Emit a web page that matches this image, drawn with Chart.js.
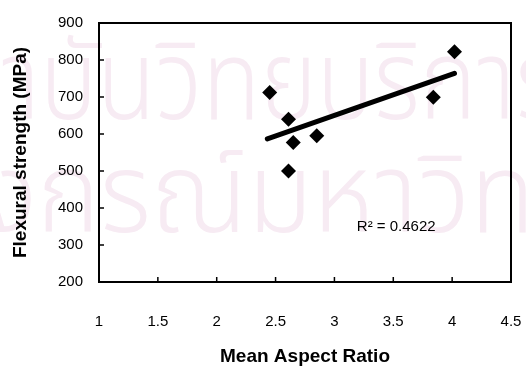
<!DOCTYPE html>
<html><head><meta charset="utf-8">
<script src="https://cdn.jsdelivr.net/npm/chart.js@4.4.1/dist/chart.umd.min.js"></script>
<style>html,body{margin:0;padding:0;background:#fff}#wrap{width:526px;height:368px;position:relative}</style>
</head><body><div id="wrap"><canvas id="c" width="526" height="368"></canvas></div>
<script>
// ---- data ----
const aspectRatio      = [2.45, 2.61, 2.65, 2.85, 2.61, 3.84, 4.02];
const flexuralStrength = [712, 640, 577, 595, 500, 699, 822];
const trendX = [2.43, 4.02];
const trendY = [587, 764];
const xTicks = [1, 1.5, 2, 2.5, 3, 3.5, 4, 4.5];
const xTickLabels = ['1', '1.5', '2', '2.5', '3', '3.5', '4', '4.5'];
const yTicks = [200, 300, 400, 500, 600, 700, 800, 900];
const yTickLabels = ['200', '300', '400', '500', '600', '700', '800', '900'];
const xTitle = 'Mean Aspect Ratio';
const yTitle = 'Flexural strength (MPa)';
const rSquaredLabel = 'R² = 0.4622';
const watermarkLines = ['สถาบันวิทยบริการ', 'จุฬาลงกรณ์มหาวิทยาลัย'];

const points = aspectRatio.map((x, i) => ({x, y: flexuralStrength[i]}));
const trend = trendX.map((x, i) => ({x, y: trendY[i]}));

const FONT = '"Liberation Sans", Arial, sans-serif';
const THAI = '"Noto Sans Thai", "Noto Sans", sans-serif';

// draw a watermark line so that `span` covers spanPx pixels starting at anchorX,
// with consonant body from (bodyBottom - bodyH) to bodyBottom
function drawStretched(ctx, text, prefix, span, anchorX, spanPx, bodyBottom, bodyH) {
  ctx.font = '300 100px ' + THAI;
  const m = ctx.measureText('น');
  const h = m.actualBoundingBoxAscent + m.actualBoundingBoxDescent;
  const size = 100 * bodyH / h;
  const desc = m.actualBoundingBoxDescent * size / 100;
  ctx.font = '300 ' + size.toFixed(1) + 'px ' + THAI;
  const sx = spanPx / ctx.measureText(span).width;
  const pre = ctx.measureText(prefix).width * sx;
  ctx.save();
  ctx.translate(anchorX - pre, bodyBottom - desc);
  ctx.scale(sx, 1);
  ctx.fillText(text, 0, 0);
  ctx.restore();
}

const decor = {
  id: 'decor',
  beforeDraw(chart) {
    const ctx = chart.ctx;
    ctx.save();
    ctx.fillStyle = '#f7ebf3';
    ctx.textBaseline = 'alphabetic';
    ctx.textAlign = 'left';
    drawStretched(ctx, watermarkLines[0], 'สถา', 'บันวิทยบริ', 40, 380, 120, 62);
    drawStretched(ctx, watermarkLines[1], 'จุฬาลง', 'กรณ์มหาวิ', 37, 433, 233, 62);
    ctx.restore();
  },
  afterDraw(chart) {
    const ctx = chart.ctx;
    const a = chart.chartArea;
    const xs = chart.scales.x, ys = chart.scales.y;
    ctx.save();
    ctx.strokeStyle = '#000';
    ctx.lineWidth = 2;
    ctx.strokeRect(a.left, a.top, a.right - a.left, a.bottom - a.top);
    ctx.lineWidth = 1.5;
    ctx.beginPath();
    xs.ticks.forEach(t => {
      const px = xs.getPixelForValue(t.value);
      if (px > a.left + 2 && px < a.right - 2) { ctx.moveTo(px, a.bottom); ctx.lineTo(px, a.bottom - 5); }
    });
    ys.ticks.forEach(t => {
      const py = ys.getPixelForValue(t.value);
      if (py > a.top + 2 && py < a.bottom - 2) { ctx.moveTo(a.left, py); ctx.lineTo(a.left + 5, py); }
    });
    ctx.stroke();
    ctx.fillStyle = '#000';
    ctx.font = '15px ' + FONT;
    ctx.textAlign = 'left';
    ctx.textBaseline = 'middle';
    ctx.fillText(rSquaredLabel, xs.getPixelForValue(3.19), ys.getPixelForValue(350));
    ctx.restore();
  }
};

new Chart(document.getElementById('c'), {
  type: 'scatter',
  data: {
    datasets: [
      {
        type: 'line',
        data: trend,
        borderColor: '#000',
        borderWidth: 5,
        borderCapStyle: 'round',
        pointRadius: 0,
        fill: false,
        order: 0
      },
      {
        data: points,
        pointStyle: 'rectRot',
        pointRadius: 7.5,
        backgroundColor: '#000',
        borderColor: '#000',
        borderWidth: 0,
        order: 1
      }
    ]
  },
  options: {
    responsive: false,
    animation: false,
    devicePixelRatio: 1,
    layout: { padding: { left: 0, right: 15, top: 23, bottom: 0 } },
    plugins: { legend: { display: false }, tooltip: { enabled: false } },
    scales: {
      x: {
        type: 'linear',
        min: 1, max: 4.5,
        afterBuildTicks: s => { s.ticks = xTicks.map(v => ({value: v})); },
        afterFit: s => { s.height = 86; },
        grid: { display: true, drawOnChartArea: false, drawTicks: true, tickLength: 31, color: 'rgba(0,0,0,0)' },
        border: { display: false },
        ticks: { padding: 0, color: '#000', font: { family: FONT, size: 15 },
                 callback: (v, i) => xTickLabels[i] },
        title: { display: true, text: xTitle, color: '#000', padding: { top: 0, bottom: 0 },
                 font: { family: FONT, size: 19, weight: 'bold' } }
      },
      y: {
        type: 'linear',
        min: 200, max: 900,
        afterBuildTicks: s => { s.ticks = yTicks.map(v => ({value: v})); },
        afterFit: s => { s.width = 99; },
        grid: { display: true, drawOnChartArea: false, drawTicks: true, tickLength: 16, color: 'rgba(0,0,0,0)' },
        border: { display: false },
        ticks: { padding: 0, color: '#000', font: { family: FONT, size: 15 },
                 callback: (v, i) => yTickLabels[i] },
        title: { display: true, text: yTitle, color: '#000', padding: { top: 9, bottom: 0 },
                 font: { family: FONT, size: 19, weight: 'bold' } }
      }
    }
  },
  plugins: [decor]
});
</script>
</body></html>
